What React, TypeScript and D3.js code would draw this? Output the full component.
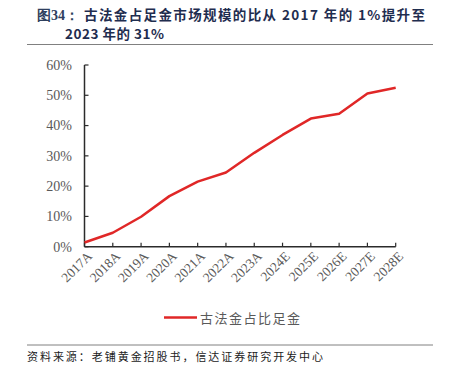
import React from "react";
import * as d3 from "d3";

const categories = ["2017A", "2018A", "2019A", "2020A", "2021A", "2022A", "2023A", "2024E", "2025E", "2026E", "2027E", "2028E"];
const shareValues = [1.4, 4.6, 9.9, 16.7, 21.5, 24.5, 31.0, 36.9, 42.3, 43.9, 50.6, 52.5];
const yTicks = [0, 10, 20, 30, 40, 50, 60];
const seriesName = "古法金占比足金";
const titleLine1 = "古法金占足金市场规模的比从 2017 年的 1%提升至";
const titleLine2 = "2023 年的 31%";
const sourceText = "资料来源：老铺黄金招股书，信达证券研究开发中心";

export default function App() {
  const W = 453, H = 377;
  const x0 = 84.5, x1 = 395.7, yTop = 65, yBot = 246.7;
  const x = d3.scalePoint<string>().domain(categories).range([x0, x1]);
  const y = d3.scaleLinear().domain([0, 60]).range([yBot, yTop]);
  const line = d3.line<number>().x((_, i) => x(categories[i])!).y((d) => y(d));
  const serif = "'Liberation Serif', 'Times New Roman', serif";
  const cjk = "'Noto Sans CJK SC', sans-serif";
  const axisColor = "#2b2b2b";
  const labelColor = "#595959";
  return (
    <svg width={W} height={H} style={{ position: "absolute", left: 0, top: 0, background: "#fff" }}>
      {/* title */}
      <text x={37} y={20} fontFamily={serif} fontSize={14} fontWeight="bold" fill="#2E3F5E">图34：</text>
      <text x={84} y={20} fontFamily={cjk} fontSize={13.5} fontWeight="bold" fill="#1F2D4F" textLength={341} lengthAdjust="spacing">{titleLine1}</text>
      <text x={65} y={39} fontFamily={cjk} fontSize={13.5} fontWeight="bold" fill="#1F2D4F" textLength={99} lengthAdjust="spacing">{titleLine2}</text>
      <line x1={27} x2={433} y1={44.5} y2={44.5} stroke="#808080" strokeWidth={1} />

      {/* y axis */}
      <line x1={x0} x2={x0} y1={yTop} y2={yBot} stroke={axisColor} strokeWidth={1.5} />
      {yTicks.map((t) => (
        <g key={t}>
          <line x1={x0} x2={x0 + 4} y1={y(t)} y2={y(t)} stroke={axisColor} strokeWidth={1.2} />
          <text x={72} y={y(t)} dy="0.35em" textAnchor="end" fontFamily={serif} fontSize={14} fill={labelColor}>{t}%</text>
        </g>
      ))}
      {/* x axis */}
      <line x1={x0} x2={x1} y1={yBot} y2={yBot} stroke={axisColor} strokeWidth={1.5} />
      {categories.map((c) => (
        <g key={c}>
          <line x1={x(c)} x2={x(c)} y1={yBot} y2={yBot - 4} stroke={axisColor} strokeWidth={1.2} />
          <text
            transform={`translate(${x(c)! + 5},${yBot + 7}) rotate(-45)`}
            textAnchor="end"
            dy="0.35em"
            fontFamily={serif}
            fontSize={13.5}
            fill={labelColor}
          >{c}</text>
        </g>
      ))}
      {/* series */}
      <path d={line(shareValues)!} fill="none" stroke="#E02727" strokeWidth={2.5} strokeLinejoin="round" />

      {/* legend */}
      <line x1={164} x2={197} y1={317.5} y2={317.5} stroke="#E02727" strokeWidth={2.5} />
      <text x={200} y={318} dy="0.35em" fontFamily={cjk} fontSize={13} fill={labelColor} textLength={100} lengthAdjust="spacing">{seriesName}</text>

      {/* source */}
      <line x1={27} x2={433} y1={345} y2={345} stroke="#808080" strokeWidth={1} />
      <text x={27} y={357} dy="0.35em" fontFamily={cjk} fontSize={11} fill="#222" textLength={296} lengthAdjust="spacing">{sourceText}</text>
    </svg>
  );
}
